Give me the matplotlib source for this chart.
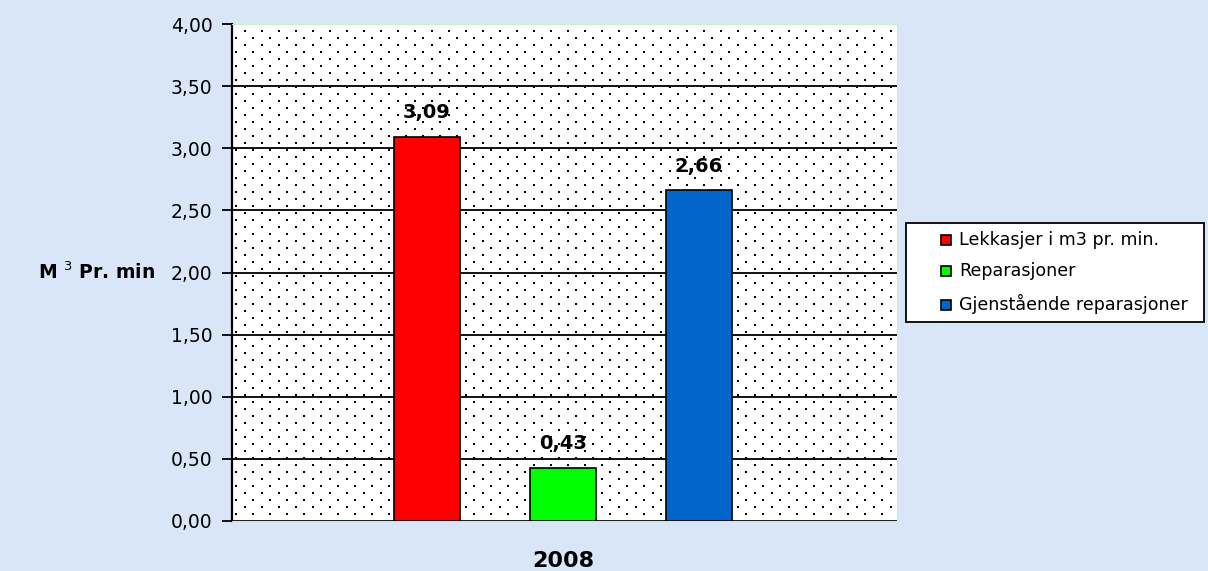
import matplotlib
matplotlib.use("Agg")
import matplotlib.pyplot as plt
import numpy as np
from matplotlib.patches import Rectangle

# data
series = ["Lekkasjer i m3 pr. min.", "Reparasjoner", "Gjenstående reparasjoner"]
values = [3.09, 0.43, 2.66]
colors = ["#ff0000", "#00ff00", "#0066cc"]
year = "2008"
yticks = [0.0, 0.5, 1.0, 1.5, 2.0, 2.5, 3.0, 3.5, 4.0]

plt.rcParams["font.family"] = ["DejaVu Sans"]

W, H = 1208, 571
fig = plt.figure(figsize=(W / 100, H / 100), dpi=100)
fig.patch.set_facecolor("#d8e6f7")
ax = fig.add_axes([232 / W, 1 - 521 / H, 665 / W, 497 / H])
ax.set_facecolor("white")

# dotted fill pattern of the plot area (staggered tiny dots)
pw, ph = 665, 497
pts = []
for i, yy in enumerate(np.arange(7, ph, 7)):
    off = 0 if i % 2 == 0 else 8.5
    for xx in np.arange(4 + off, pw, 17):
        pts.append((xx / pw, yy / ph))
pts = np.array(pts)
ax.scatter(pts[:, 0], pts[:, 1], s=1.2, c="black", marker="s", linewidths=0,
           transform=ax.transAxes, zorder=0.5)

x = range(len(values))
bars = ax.bar(x, values, width=0.48, color=colors, edgecolor="black", linewidth=1.2, zorder=3)
for b, v in zip(bars, values):
    ax.text(b.get_x() + b.get_width() / 2, v + 0.15, f"{v:.2f}".replace(".", ","),
            ha="center", va="baseline", fontsize=14, fontweight="bold", zorder=4)

ax.set_xlim(-1.434, 3.456)
ax.set_ylim(0, 4)
ax.set_yticks(yticks)
ax.set_yticklabels([f"{t:.2f}".replace(".", ",") for t in yticks], fontsize=13.5)
ax.set_xticks([])
ax.yaxis.grid(True, color="black", linewidth=1.3, zorder=1)
ax.set_axisbelow(True)
ax.tick_params(axis="y", length=7, width=1.3, direction="out", pad=7)

for s in ["top", "right", "bottom"]:
    ax.spines[s].set_color("#c8f0c8")
ax.spines["left"].set_linewidth(1.6)

fig.text(155 / W, 1 - 272 / H, "M $^3$ Pr. min", fontsize=13.5, fontweight="bold",
         ha="right", va="center")
fig.text(563 / W, 1 - 567 / H, year, fontsize=16, fontweight="bold",
         ha="center", va="baseline")

# legend box drawn in pixel coordinates of the figure
tr = fig.transFigure
fig.patches.append(Rectangle((906 / W, 1 - 322 / H), 298 / W, 99 / H, transform=tr,
                             facecolor="white", edgecolor="black", linewidth=1.3))
baselines = [245, 276, 310]
for c, s, by in zip(colors, series, baselines):
    fig.patches.append(Rectangle((941 / W, 1 - by / H), 10 / W, 10 / H, transform=tr,
                                 facecolor=c, edgecolor="black", linewidth=1.2))
    fig.text(959 / W, 1 - by / H, s, fontsize=12.6, ha="left", va="baseline")

fig.savefig("out.png", dpi=100, facecolor=fig.get_facecolor())
